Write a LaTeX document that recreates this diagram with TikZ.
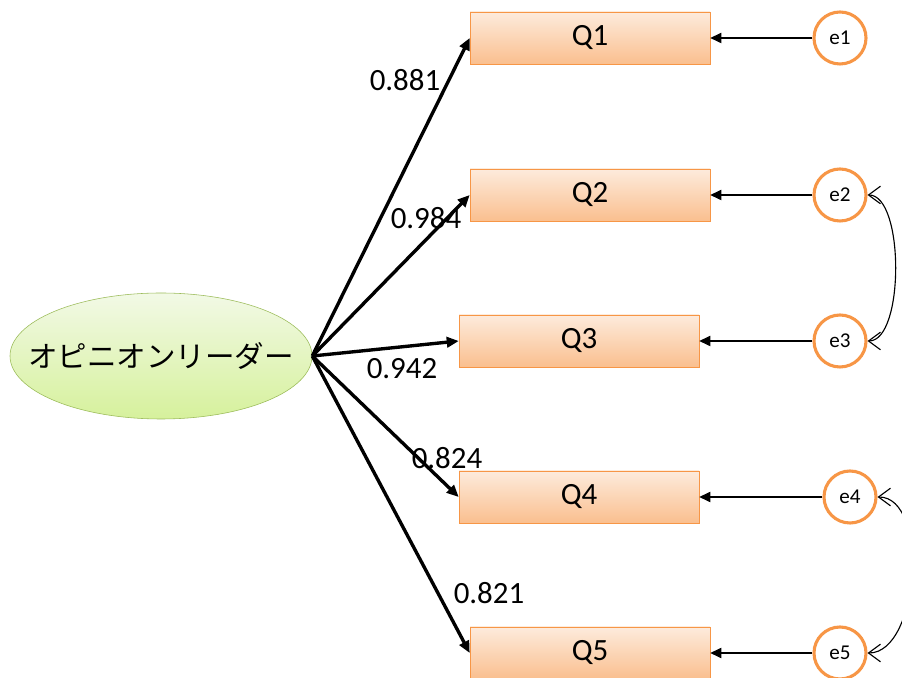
\documentclass[tikz,border=0pt]{standalone}
\usepackage{fontspec}
\setmainfont{Carlito}
\newfontfamily\jpfont{Noto Sans CJK JP}
\usetikzlibrary{arrows.meta,shapes.geometric}
\definecolor{qtop}{HTML}{FDEBDC}
\definecolor{qbot}{HTML}{FABF8F}
\definecolor{qline}{HTML}{F79646}
\definecolor{lvtop}{HTML}{F2F9E6}
\definecolor{lvbot}{HTML}{D6F19C}
\definecolor{lvline}{HTML}{9BBB59}
\tikzset{
  item/.style={draw=qline,top color=qtop,bottom color=qbot,minimum width=6cm,minimum height=1.3cm,inner sep=0pt,font=\fontsize{22}{26}\selectfont},
  errnode/.style={circle,draw=qline,line width=2.2pt,fill=white,minimum size=1.3cm,inner sep=0pt,font=\fontsize{15}{18}\selectfont},
  loadline/.style={line width=2.4pt,-{Triangle[length=3mm,width=2.6mm]}},
  errline/.style={line width=0.8pt,-{Triangle[length=2.8mm,width=2.6mm]}},
  covline/.style={line width=0.8pt,{Straight Barb[length=3mm,width=4.4mm]}-{Straight Barb[length=3mm,width=4.4mm]}}
}
\begin{document}
\begin{tikzpicture}[every node/.style={font=\fontsize{22}{26}\selectfont}]
\useasboundingbox (0,0) rectangle (22.55,16.95);
% latent variable
\node[ellipse,draw=lvline,top color=lvtop,bottom color=lvbot,minimum width=7.55cm,minimum height=3.15cm,inner sep=0pt] (lv) at (4.025,8.05) {\makebox[0pt]{\jpfont\fontsize{21}{25}\selectfont オピニオンリーダー}};
% observed items and their errors
\node[item] (q1) at (14.75,16.0) {Q1};
\node[item] (q2) at (14.75,12.075) {Q2};
\node[item] (q3) at (14.475,8.425) {Q3};
\node[item] (q4) at (14.475,4.525) {Q4};
\node[item] (q5) at (14.75,0.625) {Q5};
\node[errnode] (e1) at (21.0,16.0) {e1};
\node[errnode] (e2) at (21.0,12.075) {e2};
\node[errnode] (e3) at (21.0,8.425) {e3};
\node[errnode] (e4) at (21.25,4.525) {e4};
\node[errnode] (e5) at (21.0,0.625) {e5};
% loadings
\foreach \i/\v/\x/\y in {1/0.881/10.125/14.95,2/0.984/10.65/11.5,3/0.942/10.05/7.725,4/0.824/11.175/5.5,5/0.821/12.225/2.125} {
  \draw[loadline] (lv.east) -- (q\i.west);
  \node (w\i) at (\x,\y) {\v};
}
\foreach \i in {1,...,5} {\draw[errline] (e\i.west) -- (q\i.east);}
% correlated errors
\draw[covline] (e2.east) to[out=0,in=0,looseness=0.65] (e3.east);
\draw[covline] (e4.east) to[out=0,in=0,looseness=0.85] (e5.east);
\end{tikzpicture}
\end{document}
